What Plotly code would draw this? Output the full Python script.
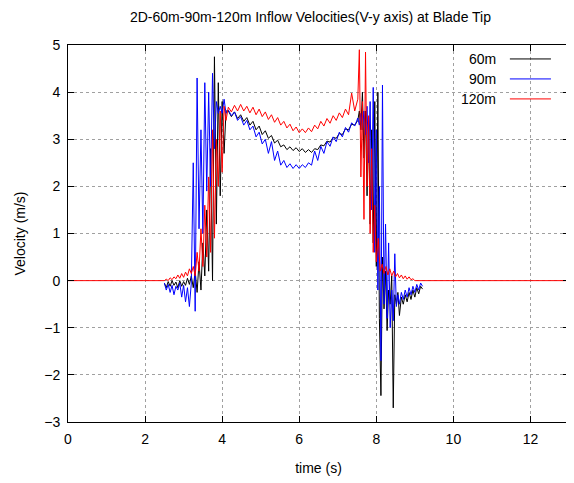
import plotly.graph_objects as go

# ---------------- data ----------------
series_names = ["60m", "90m", "120m"]
series_colors = ["#000000", "#0000ff", "#ff0000"]

t_60 = [2.50, 2.55, 2.60, 2.65, 2.70, 2.75, 2.80, 2.85, 2.90, 2.95, 3.00, 3.05, 3.10, 3.15,
        3.20, 3.25, 3.30, 3.35, 3.40, 3.45, 3.50, 3.55, 3.60, 3.65, 3.70, 3.75, 3.80, 3.85,
        3.90, 3.95, 4.00, 4.05, 4.10,
        4.16, 4.24, 4.32, 4.40, 4.48, 4.56, 4.64, 4.72, 4.80, 4.88, 4.96, 5.04, 5.12, 5.20,
        5.28, 5.36, 5.44, 5.52, 5.60, 5.68, 5.76, 5.84, 5.92, 6.00, 6.08, 6.16, 6.24, 6.32,
        6.40, 6.48, 6.56, 6.64, 6.72, 6.80, 6.88, 6.96, 7.04, 7.12, 7.20, 7.28, 7.36, 7.44,
        7.52,
        7.56, 7.60, 7.64, 7.68, 7.72, 7.76, 7.80, 7.84, 7.88, 7.92, 7.96, 8.00, 8.04, 8.08,
        8.12, 8.16, 8.20, 8.24, 8.28, 8.32, 8.36, 8.40, 8.44, 8.48, 8.52, 8.56, 8.60, 8.65,
        8.70, 8.75, 8.80, 8.85, 8.90, 8.95, 9.00, 9.05, 9.10, 9.15, 9.20]
v_60 = [-0.05, -0.15, -0.02, -0.12, 0.00, -0.10, -0.03, -0.15, 0.00, -0.12, -0.02, -0.10, 0.05, -0.08,
        0.10, -0.15, 0.20, -0.25, 0.40, -0.20, 0.80, 0.10, 1.50, 0.20, 2.80, 0.00, 4.75, 1.20,
        4.20, 1.80, 3.80, 2.70, 3.60,
        3.60, 3.48, 3.58, 3.44, 3.52, 3.38, 3.46, 3.30, 3.38, 3.20, 3.28, 3.10, 3.18, 3.02,
        3.08, 2.92, 2.98, 2.84, 2.88, 2.78, 2.84, 2.76, 2.82, 2.74, 2.80, 2.72, 2.78, 2.72,
        2.80, 2.78, 2.88, 2.86, 2.96, 2.94, 3.04, 3.02, 3.12, 3.10, 3.22, 3.20, 3.32, 3.30,
        3.40,
        3.60, 3.20, 4.00, 2.60, 3.60, 1.80, 3.40, 1.20, 3.20, 0.80, 3.80, 0.30, 4.00, -0.80,
        -2.44, 0.50, -0.60, 0.20, -1.06, -0.20, -0.50, 0.10, -2.70, -0.30, -0.50, -0.25, -0.74, -0.35,
        -0.50, -0.30, -0.45, -0.25, -0.40, -0.20, -0.35, -0.15, -0.28, -0.12, -0.18]

t_90 = [2.50, 2.55, 2.60, 2.65, 2.70, 2.75, 2.80, 2.85, 2.90, 2.95, 3.00, 3.05, 3.10, 3.15,
        3.20, 3.25, 3.30, 3.35, 3.40, 3.45, 3.50, 3.55, 3.60, 3.65, 3.70, 3.75, 3.80, 3.85,
        3.90, 3.95, 4.00, 4.05, 4.10,
        4.16, 4.24, 4.32, 4.40, 4.48, 4.56, 4.64, 4.72, 4.80, 4.88, 4.96, 5.04, 5.12, 5.20,
        5.28, 5.36, 5.44, 5.52, 5.60, 5.68, 5.76, 5.84, 5.92, 6.00, 6.08, 6.16, 6.24, 6.32,
        6.40, 6.48, 6.56, 6.64, 6.72, 6.80, 6.88, 6.96, 7.04, 7.12, 7.20, 7.28, 7.36, 7.44,
        7.52,
        7.56, 7.60, 7.64, 7.68, 7.72, 7.76, 7.80, 7.84, 7.88, 7.92, 7.96, 8.00, 8.04, 8.08,
        8.12, 8.16, 8.20, 8.24, 8.28, 8.32, 8.36, 8.40, 8.44, 8.48, 8.52, 8.56, 8.60, 8.65,
        8.70, 8.75, 8.80, 8.85, 8.90, 8.95, 9.00, 9.05, 9.10, 9.15, 9.20]
v_90 = [-0.05, -0.20, -0.08, -0.25, -0.10, -0.30, -0.12, -0.20, -0.05, -0.35, -0.10, -0.45, -0.15, -0.55,
        -0.05, 2.50, -0.65, 4.30, 1.10, 3.20, 1.00, 4.20, 1.90, 4.00, 2.00, 4.40, 2.80, 3.80,
        3.55, 3.70, 3.55, 3.85, 3.55,
        3.62, 3.50, 3.58, 3.40, 3.48, 3.30, 3.40, 3.20, 3.28, 3.05, 3.15, 2.90, 3.00, 2.70,
        2.95, 2.55, 2.75, 2.45, 2.55, 2.40, 2.48, 2.38, 2.46, 2.38, 2.46, 2.40, 2.50, 2.45,
        2.75, 2.55, 2.85, 2.70, 2.95, 2.85, 3.05, 2.95, 3.15, 3.05, 3.25, 3.15, 3.35, 3.28,
        3.45,
        3.30, 3.55, 3.20, 3.60, 3.10, 3.70, 2.50, 3.80, 1.50, 4.10, 0.60, 3.20, -0.20, 2.00,
        -1.70, 4.15, -0.50, 1.20, -0.80, 0.80, -1.00, -0.20, -0.85, 0.57, -0.55, -0.30, -0.50, -0.25,
        -0.40, -0.20, -0.35, -0.15, -0.30, -0.12, -0.25, -0.08, -0.20, -0.05, -0.12]

t_120 = [0.00, 2.50, 2.55, 2.60, 2.65, 2.70, 2.75, 2.80, 2.85, 2.90, 2.95, 3.00, 3.05, 3.10, 3.15,
         3.20, 3.25, 3.30, 3.35, 3.40, 3.45, 3.50, 3.55, 3.60, 3.65, 3.70, 3.75, 3.80, 3.85,
         3.90, 3.95, 4.00, 4.05, 4.10,
         4.16, 4.24, 4.32, 4.40, 4.48, 4.56, 4.64, 4.72, 4.80, 4.88, 4.96, 5.04, 5.12, 5.20,
         5.28, 5.36, 5.44, 5.52, 5.60, 5.68, 5.76, 5.84, 5.92, 6.00, 6.08, 6.16, 6.24, 6.32,
         6.40, 6.48, 6.56, 6.64, 6.72, 6.80, 6.88, 6.96, 7.04, 7.12, 7.20, 7.28, 7.36, 7.44,
         7.52,
         7.56, 7.60, 7.64, 7.68, 7.72, 7.76, 7.80, 7.84, 7.88, 7.92, 7.96, 8.00, 8.05, 8.10,
         8.15, 8.20, 8.25, 8.30, 8.35, 8.40, 8.45, 8.50, 8.55, 8.60, 8.65, 8.70, 8.75, 8.80,
         8.85, 8.90, 8.95, 9.00, 13.00]
v_120 = [0.00, 0.00, 0.03, 0.00, 0.06, 0.02, 0.08, 0.04, 0.12, 0.05, 0.15, 0.07, 0.18, 0.10, 0.25,
         0.15, 0.30, 0.10, 0.60, 0.20, 1.10, 0.30, 1.60, 0.50, 2.20, 0.60, 3.20, 0.90, 3.00,
         2.00, 3.60, 2.30, 3.70, 3.40,
         3.68, 3.58, 3.72, 3.60, 3.74, 3.60, 3.70, 3.56, 3.68, 3.52, 3.64, 3.48, 3.58, 3.42,
         3.52, 3.36, 3.46, 3.30, 3.38, 3.24, 3.32, 3.18, 3.26, 3.14, 3.22, 3.14, 3.24, 3.16,
         3.30, 3.22, 3.38, 3.28, 3.44, 3.34, 3.50, 3.40, 3.56, 3.46, 3.64, 3.52, 3.98, 3.60,
         3.85,
         4.90, 2.20, 3.80, 1.30, 4.85, 2.00, 3.50, 1.00, 2.80, 0.60, 1.60, 0.40, 0.90, 0.20,
         0.35, 0.15, 0.30, 0.12, 0.25, 0.10, 0.20, 0.08, 0.15, 0.06, 0.12, 0.04, 0.10, 0.03,
         0.08, 0.02, 0.04, 0.00, 0.00]

x_ticks = [0, 2, 4, 6, 8, 10, 12]
y_ticks = [-3, -2, -1, 0, 1, 2, 3, 4, 5]

title_text = "2D-60m-90m-120m Inflow Velocities(V-y axis) at Blade Tip"
x_title = "time (s)"
y_title = "Velocity (m/s)"

# ---------------- figure ----------------
FONT = "Liberation Sans, Arial, sans-serif"
fig = go.Figure()
for name, color, tx, vy in zip(series_names, series_colors,
                               [t_60, t_90, t_120], [v_60, v_90, v_120]):
    fig.add_trace(go.Scatter(x=tx, y=vy, mode="lines", name=name,
                             line=dict(color=color, width=1), showlegend=False))

# gnuplot-style legend: text right-aligned, sample line on the right
legend_y = [0.963, 0.910, 0.857]
for name, color, ly in zip(series_names, series_colors, legend_y):
    fig.add_annotation(xref="paper", yref="paper", x=0.858, y=ly, text=name,
                       showarrow=False, xanchor="right", yanchor="middle",
                       font=dict(family=FONT, size=14, color="#000000"))
    fig.add_shape(type="line", xref="paper", yref="paper", x0=0.882, x1=0.964,
                  y0=ly, y1=ly, line=dict(color=color, width=1))

axis_common = dict(showline=True, linecolor="#000000", linewidth=1, mirror="allticks",
                   ticks="inside", ticklen=6, tickcolor="#000000", automargin=False,
                   ticklabelstandoff=4,
                   showgrid=True, gridcolor="#a0a0a0", griddash="dot", gridwidth=1,
                   zeroline=False, tickfont=dict(family=FONT, size=14, color="#000000"))

fig.update_xaxes(range=[0, 13], tickvals=x_ticks, **axis_common,
                 title=dict(text=x_title, standoff=17,
                            font=dict(family=FONT, size=14, color="#000000")))
fig.update_yaxes(range=[-3, 5], tickvals=y_ticks, **axis_common,
                 title=dict(text=y_title, standoff=15,
                            font=dict(family=FONT, size=14, color="#000000")))

fig.update_layout(
    width=574, height=483,
    margin=dict(l=60, r=13, t=37, b=69),
    paper_bgcolor="#ffffff", plot_bgcolor="#ffffff",
    title=dict(text=title_text, x=0.527, xanchor="center", y=0.981, yanchor="middle",
               font=dict(family=FONT, size=14, color="#000000")),
)

fig.write_html("out.html")
